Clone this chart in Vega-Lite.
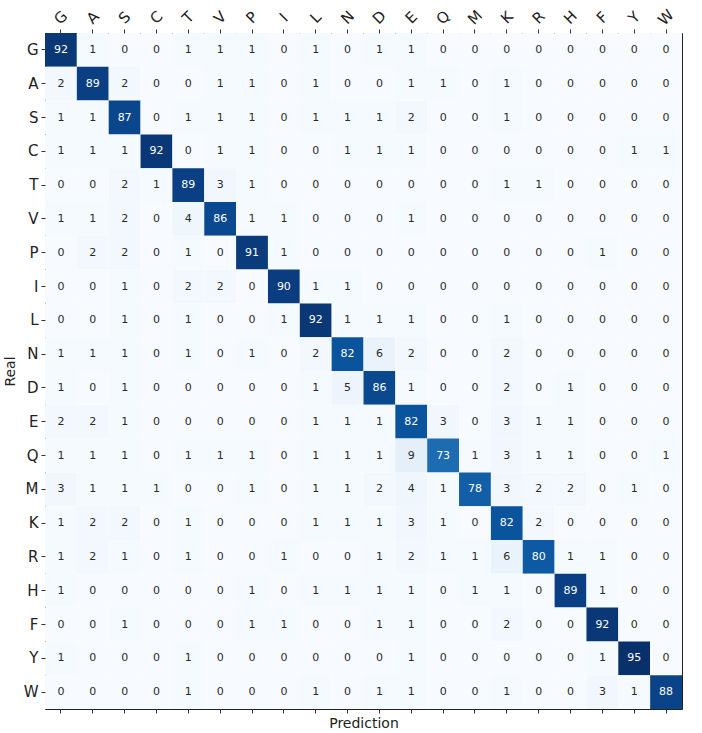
{
  "$schema": "https://vega.github.io/schema/vega-lite/v6.json",
  "width": 637,
  "height": 676,
  "autosize": "none",
  "padding": {"left": 45, "top": 33, "right": 20, "bottom": 24},
  "background": "white",
  "config": {
    "font": "DejaVu Sans",
    "view": {"stroke": "#222", "strokeWidth": 1},
    "axis": {
      "domain": false,
      "ticks": true,
      "tickColor": "#333",
      "tickSize": 4,
      "labelFontSize": 15,
      "labelColor": "#222",
      "titleFontSize": 14,
      "titleFontWeight": "normal",
      "titleColor": "#222",
      "grid": false
    }
  },
  "data": {"values": [
    {"real":"G","pred":"G","n":92},{"real":"G","pred":"A","n":1},{"real":"G","pred":"S","n":0},{"real":"G","pred":"C","n":0},{"real":"G","pred":"T","n":1},{"real":"G","pred":"V","n":1},{"real":"G","pred":"P","n":1},{"real":"G","pred":"I","n":0},{"real":"G","pred":"L","n":1},{"real":"G","pred":"N","n":0},{"real":"G","pred":"D","n":1},{"real":"G","pred":"E","n":1},{"real":"G","pred":"Q","n":0},{"real":"G","pred":"M","n":0},{"real":"G","pred":"K","n":0},{"real":"G","pred":"R","n":0},{"real":"G","pred":"H","n":0},{"real":"G","pred":"F","n":0},{"real":"G","pred":"Y","n":0},{"real":"G","pred":"W","n":0},
    {"real":"A","pred":"G","n":2},{"real":"A","pred":"A","n":89},{"real":"A","pred":"S","n":2},{"real":"A","pred":"C","n":0},{"real":"A","pred":"T","n":0},{"real":"A","pred":"V","n":1},{"real":"A","pred":"P","n":1},{"real":"A","pred":"I","n":0},{"real":"A","pred":"L","n":1},{"real":"A","pred":"N","n":0},{"real":"A","pred":"D","n":0},{"real":"A","pred":"E","n":1},{"real":"A","pred":"Q","n":1},{"real":"A","pred":"M","n":0},{"real":"A","pred":"K","n":1},{"real":"A","pred":"R","n":0},{"real":"A","pred":"H","n":0},{"real":"A","pred":"F","n":0},{"real":"A","pred":"Y","n":0},{"real":"A","pred":"W","n":0},
    {"real":"S","pred":"G","n":1},{"real":"S","pred":"A","n":1},{"real":"S","pred":"S","n":87},{"real":"S","pred":"C","n":0},{"real":"S","pred":"T","n":1},{"real":"S","pred":"V","n":1},{"real":"S","pred":"P","n":1},{"real":"S","pred":"I","n":0},{"real":"S","pred":"L","n":1},{"real":"S","pred":"N","n":1},{"real":"S","pred":"D","n":1},{"real":"S","pred":"E","n":2},{"real":"S","pred":"Q","n":0},{"real":"S","pred":"M","n":0},{"real":"S","pred":"K","n":1},{"real":"S","pred":"R","n":0},{"real":"S","pred":"H","n":0},{"real":"S","pred":"F","n":0},{"real":"S","pred":"Y","n":0},{"real":"S","pred":"W","n":0},
    {"real":"C","pred":"G","n":1},{"real":"C","pred":"A","n":1},{"real":"C","pred":"S","n":1},{"real":"C","pred":"C","n":92},{"real":"C","pred":"T","n":0},{"real":"C","pred":"V","n":1},{"real":"C","pred":"P","n":1},{"real":"C","pred":"I","n":0},{"real":"C","pred":"L","n":0},{"real":"C","pred":"N","n":1},{"real":"C","pred":"D","n":1},{"real":"C","pred":"E","n":1},{"real":"C","pred":"Q","n":0},{"real":"C","pred":"M","n":0},{"real":"C","pred":"K","n":0},{"real":"C","pred":"R","n":0},{"real":"C","pred":"H","n":0},{"real":"C","pred":"F","n":0},{"real":"C","pred":"Y","n":1},{"real":"C","pred":"W","n":1},
    {"real":"T","pred":"G","n":0},{"real":"T","pred":"A","n":0},{"real":"T","pred":"S","n":2},{"real":"T","pred":"C","n":1},{"real":"T","pred":"T","n":89},{"real":"T","pred":"V","n":3},{"real":"T","pred":"P","n":1},{"real":"T","pred":"I","n":0},{"real":"T","pred":"L","n":0},{"real":"T","pred":"N","n":0},{"real":"T","pred":"D","n":0},{"real":"T","pred":"E","n":0},{"real":"T","pred":"Q","n":0},{"real":"T","pred":"M","n":0},{"real":"T","pred":"K","n":1},{"real":"T","pred":"R","n":1},{"real":"T","pred":"H","n":0},{"real":"T","pred":"F","n":0},{"real":"T","pred":"Y","n":0},{"real":"T","pred":"W","n":0},
    {"real":"V","pred":"G","n":1},{"real":"V","pred":"A","n":1},{"real":"V","pred":"S","n":2},{"real":"V","pred":"C","n":0},{"real":"V","pred":"T","n":4},{"real":"V","pred":"V","n":86},{"real":"V","pred":"P","n":1},{"real":"V","pred":"I","n":1},{"real":"V","pred":"L","n":0},{"real":"V","pred":"N","n":0},{"real":"V","pred":"D","n":0},{"real":"V","pred":"E","n":1},{"real":"V","pred":"Q","n":0},{"real":"V","pred":"M","n":0},{"real":"V","pred":"K","n":0},{"real":"V","pred":"R","n":0},{"real":"V","pred":"H","n":0},{"real":"V","pred":"F","n":0},{"real":"V","pred":"Y","n":0},{"real":"V","pred":"W","n":0},
    {"real":"P","pred":"G","n":0},{"real":"P","pred":"A","n":2},{"real":"P","pred":"S","n":2},{"real":"P","pred":"C","n":0},{"real":"P","pred":"T","n":1},{"real":"P","pred":"V","n":0},{"real":"P","pred":"P","n":91},{"real":"P","pred":"I","n":1},{"real":"P","pred":"L","n":0},{"real":"P","pred":"N","n":0},{"real":"P","pred":"D","n":0},{"real":"P","pred":"E","n":0},{"real":"P","pred":"Q","n":0},{"real":"P","pred":"M","n":0},{"real":"P","pred":"K","n":0},{"real":"P","pred":"R","n":0},{"real":"P","pred":"H","n":0},{"real":"P","pred":"F","n":1},{"real":"P","pred":"Y","n":0},{"real":"P","pred":"W","n":0},
    {"real":"I","pred":"G","n":0},{"real":"I","pred":"A","n":0},{"real":"I","pred":"S","n":1},{"real":"I","pred":"C","n":0},{"real":"I","pred":"T","n":2},{"real":"I","pred":"V","n":2},{"real":"I","pred":"P","n":0},{"real":"I","pred":"I","n":90},{"real":"I","pred":"L","n":1},{"real":"I","pred":"N","n":1},{"real":"I","pred":"D","n":0},{"real":"I","pred":"E","n":0},{"real":"I","pred":"Q","n":0},{"real":"I","pred":"M","n":0},{"real":"I","pred":"K","n":0},{"real":"I","pred":"R","n":0},{"real":"I","pred":"H","n":0},{"real":"I","pred":"F","n":0},{"real":"I","pred":"Y","n":0},{"real":"I","pred":"W","n":0},
    {"real":"L","pred":"G","n":0},{"real":"L","pred":"A","n":0},{"real":"L","pred":"S","n":1},{"real":"L","pred":"C","n":0},{"real":"L","pred":"T","n":1},{"real":"L","pred":"V","n":0},{"real":"L","pred":"P","n":0},{"real":"L","pred":"I","n":1},{"real":"L","pred":"L","n":92},{"real":"L","pred":"N","n":1},{"real":"L","pred":"D","n":1},{"real":"L","pred":"E","n":1},{"real":"L","pred":"Q","n":0},{"real":"L","pred":"M","n":0},{"real":"L","pred":"K","n":1},{"real":"L","pred":"R","n":0},{"real":"L","pred":"H","n":0},{"real":"L","pred":"F","n":0},{"real":"L","pred":"Y","n":0},{"real":"L","pred":"W","n":0},
    {"real":"N","pred":"G","n":1},{"real":"N","pred":"A","n":1},{"real":"N","pred":"S","n":1},{"real":"N","pred":"C","n":0},{"real":"N","pred":"T","n":1},{"real":"N","pred":"V","n":0},{"real":"N","pred":"P","n":1},{"real":"N","pred":"I","n":0},{"real":"N","pred":"L","n":2},{"real":"N","pred":"N","n":82},{"real":"N","pred":"D","n":6},{"real":"N","pred":"E","n":2},{"real":"N","pred":"Q","n":0},{"real":"N","pred":"M","n":0},{"real":"N","pred":"K","n":2},{"real":"N","pred":"R","n":0},{"real":"N","pred":"H","n":0},{"real":"N","pred":"F","n":0},{"real":"N","pred":"Y","n":0},{"real":"N","pred":"W","n":0},
    {"real":"D","pred":"G","n":1},{"real":"D","pred":"A","n":0},{"real":"D","pred":"S","n":1},{"real":"D","pred":"C","n":0},{"real":"D","pred":"T","n":0},{"real":"D","pred":"V","n":0},{"real":"D","pred":"P","n":0},{"real":"D","pred":"I","n":0},{"real":"D","pred":"L","n":1},{"real":"D","pred":"N","n":5},{"real":"D","pred":"D","n":86},{"real":"D","pred":"E","n":1},{"real":"D","pred":"Q","n":0},{"real":"D","pred":"M","n":0},{"real":"D","pred":"K","n":2},{"real":"D","pred":"R","n":0},{"real":"D","pred":"H","n":1},{"real":"D","pred":"F","n":0},{"real":"D","pred":"Y","n":0},{"real":"D","pred":"W","n":0},
    {"real":"E","pred":"G","n":2},{"real":"E","pred":"A","n":2},{"real":"E","pred":"S","n":1},{"real":"E","pred":"C","n":0},{"real":"E","pred":"T","n":0},{"real":"E","pred":"V","n":0},{"real":"E","pred":"P","n":0},{"real":"E","pred":"I","n":0},{"real":"E","pred":"L","n":1},{"real":"E","pred":"N","n":1},{"real":"E","pred":"D","n":1},{"real":"E","pred":"E","n":82},{"real":"E","pred":"Q","n":3},{"real":"E","pred":"M","n":0},{"real":"E","pred":"K","n":3},{"real":"E","pred":"R","n":1},{"real":"E","pred":"H","n":1},{"real":"E","pred":"F","n":0},{"real":"E","pred":"Y","n":0},{"real":"E","pred":"W","n":0},
    {"real":"Q","pred":"G","n":1},{"real":"Q","pred":"A","n":1},{"real":"Q","pred":"S","n":1},{"real":"Q","pred":"C","n":0},{"real":"Q","pred":"T","n":1},{"real":"Q","pred":"V","n":1},{"real":"Q","pred":"P","n":1},{"real":"Q","pred":"I","n":0},{"real":"Q","pred":"L","n":1},{"real":"Q","pred":"N","n":1},{"real":"Q","pred":"D","n":1},{"real":"Q","pred":"E","n":9},{"real":"Q","pred":"Q","n":73},{"real":"Q","pred":"M","n":1},{"real":"Q","pred":"K","n":3},{"real":"Q","pred":"R","n":1},{"real":"Q","pred":"H","n":1},{"real":"Q","pred":"F","n":0},{"real":"Q","pred":"Y","n":0},{"real":"Q","pred":"W","n":1},
    {"real":"M","pred":"G","n":3},{"real":"M","pred":"A","n":1},{"real":"M","pred":"S","n":1},{"real":"M","pred":"C","n":1},{"real":"M","pred":"T","n":0},{"real":"M","pred":"V","n":0},{"real":"M","pred":"P","n":1},{"real":"M","pred":"I","n":0},{"real":"M","pred":"L","n":1},{"real":"M","pred":"N","n":1},{"real":"M","pred":"D","n":2},{"real":"M","pred":"E","n":4},{"real":"M","pred":"Q","n":1},{"real":"M","pred":"M","n":78},{"real":"M","pred":"K","n":3},{"real":"M","pred":"R","n":2},{"real":"M","pred":"H","n":2},{"real":"M","pred":"F","n":0},{"real":"M","pred":"Y","n":1},{"real":"M","pred":"W","n":0},
    {"real":"K","pred":"G","n":1},{"real":"K","pred":"A","n":2},{"real":"K","pred":"S","n":2},{"real":"K","pred":"C","n":0},{"real":"K","pred":"T","n":1},{"real":"K","pred":"V","n":0},{"real":"K","pred":"P","n":0},{"real":"K","pred":"I","n":0},{"real":"K","pred":"L","n":1},{"real":"K","pred":"N","n":1},{"real":"K","pred":"D","n":1},{"real":"K","pred":"E","n":3},{"real":"K","pred":"Q","n":1},{"real":"K","pred":"M","n":0},{"real":"K","pred":"K","n":82},{"real":"K","pred":"R","n":2},{"real":"K","pred":"H","n":0},{"real":"K","pred":"F","n":0},{"real":"K","pred":"Y","n":0},{"real":"K","pred":"W","n":0},
    {"real":"R","pred":"G","n":1},{"real":"R","pred":"A","n":2},{"real":"R","pred":"S","n":1},{"real":"R","pred":"C","n":0},{"real":"R","pred":"T","n":1},{"real":"R","pred":"V","n":0},{"real":"R","pred":"P","n":0},{"real":"R","pred":"I","n":1},{"real":"R","pred":"L","n":0},{"real":"R","pred":"N","n":0},{"real":"R","pred":"D","n":1},{"real":"R","pred":"E","n":2},{"real":"R","pred":"Q","n":1},{"real":"R","pred":"M","n":1},{"real":"R","pred":"K","n":6},{"real":"R","pred":"R","n":80},{"real":"R","pred":"H","n":1},{"real":"R","pred":"F","n":1},{"real":"R","pred":"Y","n":0},{"real":"R","pred":"W","n":0},
    {"real":"H","pred":"G","n":1},{"real":"H","pred":"A","n":0},{"real":"H","pred":"S","n":0},{"real":"H","pred":"C","n":0},{"real":"H","pred":"T","n":0},{"real":"H","pred":"V","n":0},{"real":"H","pred":"P","n":1},{"real":"H","pred":"I","n":0},{"real":"H","pred":"L","n":1},{"real":"H","pred":"N","n":1},{"real":"H","pred":"D","n":1},{"real":"H","pred":"E","n":1},{"real":"H","pred":"Q","n":0},{"real":"H","pred":"M","n":1},{"real":"H","pred":"K","n":1},{"real":"H","pred":"R","n":0},{"real":"H","pred":"H","n":89},{"real":"H","pred":"F","n":1},{"real":"H","pred":"Y","n":0},{"real":"H","pred":"W","n":0},
    {"real":"F","pred":"G","n":0},{"real":"F","pred":"A","n":0},{"real":"F","pred":"S","n":1},{"real":"F","pred":"C","n":0},{"real":"F","pred":"T","n":0},{"real":"F","pred":"V","n":0},{"real":"F","pred":"P","n":1},{"real":"F","pred":"I","n":1},{"real":"F","pred":"L","n":0},{"real":"F","pred":"N","n":0},{"real":"F","pred":"D","n":1},{"real":"F","pred":"E","n":1},{"real":"F","pred":"Q","n":0},{"real":"F","pred":"M","n":0},{"real":"F","pred":"K","n":2},{"real":"F","pred":"R","n":0},{"real":"F","pred":"H","n":0},{"real":"F","pred":"F","n":92},{"real":"F","pred":"Y","n":0},{"real":"F","pred":"W","n":0},
    {"real":"Y","pred":"G","n":1},{"real":"Y","pred":"A","n":0},{"real":"Y","pred":"S","n":0},{"real":"Y","pred":"C","n":0},{"real":"Y","pred":"T","n":1},{"real":"Y","pred":"V","n":0},{"real":"Y","pred":"P","n":0},{"real":"Y","pred":"I","n":0},{"real":"Y","pred":"L","n":0},{"real":"Y","pred":"N","n":0},{"real":"Y","pred":"D","n":0},{"real":"Y","pred":"E","n":1},{"real":"Y","pred":"Q","n":0},{"real":"Y","pred":"M","n":0},{"real":"Y","pred":"K","n":0},{"real":"Y","pred":"R","n":0},{"real":"Y","pred":"H","n":0},{"real":"Y","pred":"F","n":1},{"real":"Y","pred":"Y","n":95},{"real":"Y","pred":"W","n":0},
    {"real":"W","pred":"G","n":0},{"real":"W","pred":"A","n":0},{"real":"W","pred":"S","n":0},{"real":"W","pred":"C","n":0},{"real":"W","pred":"T","n":1},{"real":"W","pred":"V","n":0},{"real":"W","pred":"P","n":0},{"real":"W","pred":"I","n":0},{"real":"W","pred":"L","n":1},{"real":"W","pred":"N","n":0},{"real":"W","pred":"D","n":1},{"real":"W","pred":"E","n":1},{"real":"W","pred":"Q","n":0},{"real":"W","pred":"M","n":0},{"real":"W","pred":"K","n":1},{"real":"W","pred":"R","n":0},{"real":"W","pred":"H","n":0},{"real":"W","pred":"F","n":3},{"real":"W","pred":"Y","n":1},{"real":"W","pred":"W","n":88}
  ]},
  "layer": [
    {
      "mark": {"type": "rect"},
      "encoding": {
        "x": {
          "field": "pred", "type": "nominal",
          "sort": ["G","A","S","C","T","V","P","I","L","N","D","E","Q","M","K","R","H","F","Y","W"],
          "scale": {"type": "band", "paddingInner": 0, "paddingOuter": 0},
          "axis": {"orient": "top", "title": null, "labelAngle": -45, "labelAlign": "center", "labelBaseline": "middle", "labelPadding": 12}
        },
        "y": {
          "field": "real", "type": "nominal",
          "sort": ["G","A","S","C","T","V","P","I","L","N","D","E","Q","M","K","R","H","F","Y","W"],
          "scale": {"type": "band", "paddingInner": 0, "paddingOuter": 0},
          "axis": {"title": "Real", "labelAngle": 0, "labelPadding": 3, "titlePadding": 6}
        },
        "color": {
          "field": "n", "type": "quantitative", "legend": null,
          "scale": {
            "domain": [0, 11.875, 23.75, 35.625, 47.5, 59.375, 71.25, 83.125, 95],
            "range": ["#f7fbff", "#deebf7", "#c6dbef", "#9ecae1", "#6baed6", "#4292c6", "#2171b5", "#08519c", "#08306b"]
          }
        }
      }
    },
    {
      "mark": {"type": "text", "fontSize": 11},
      "encoding": {
        "x": {
          "field": "pred", "type": "nominal",
          "sort": ["G","A","S","C","T","V","P","I","L","N","D","E","Q","M","K","R","H","F","Y","W"],
          "axis": {"orient": "bottom", "title": "Prediction", "labels": false, "titlePadding": 3}
        },
        "y": {
          "field": "real", "type": "nominal",
          "sort": ["G","A","S","C","T","V","P","I","L","N","D","E","Q","M","K","R","H","F","Y","W"]
        },
        "text": {"field": "n", "type": "quantitative"},
        "color": {"condition": {"test": "datum.n > 47.5", "value": "white"}, "value": "#2a2a2a"}
      }
    }
  ],
  "resolve": {"axis": {"x": "independent"}}
}
